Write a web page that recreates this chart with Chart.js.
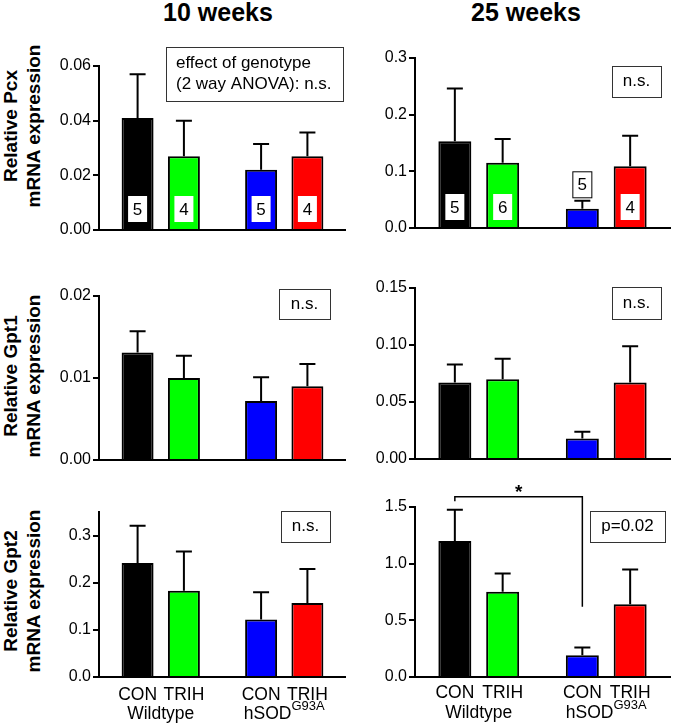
<!DOCTYPE html>
<html>
<head>
<meta charset="utf-8">
<script src="https://cdn.jsdelivr.net/npm/chart.js@4.4.0/dist/chart.umd.min.js"></script>
<style>
  body { margin: 0; background: #fff; width: 673px; height: 725px; position: relative; overflow: hidden;
         font-family: "Liberation Sans", Arial, sans-serif; }
  canvas { position: absolute; }
  .colTitle { position: absolute; top: 0; font-weight: bold; font-size: 25px; line-height: 25px;
              transform: translateX(-50%); white-space: nowrap; }
  .yTitle { position: absolute; font-weight: bold; font-size: 19px; line-height: 23px; text-align: center;
            white-space: nowrap; transform: translate(-50%, -50%) rotate(-90deg); }
</style>
</head>
<body>
<div class="colTitle" style="left:218px">10 weeks</div>
<div class="colTitle" style="left:526px">25 weeks</div>
<div class="yTitle" style="left:22px;top:126px">Relative Pcx<br>mRNA expression</div>
<div class="yTitle" style="left:22px;top:376px">Relative Gpt1<br>mRNA expression</div>
<div class="yTitle" style="left:22px;top:591px">Relative Gpt2<br>mRNA expression</div>
<script>
// groups and treatments; bar order: Wildtype CON, Wildtype TRIH, hSOD CON, hSOD TRIH
const groups = ['Wildtype', 'hSOD'];
const groupSup = ['', 'G93A'];
const treatments = ['CON', 'TRIH'];
const barColors = ['#000000', '#00ff00', '#0000ff', '#ff0000'];

// Pcx
const pcx10Mean = [0.041, 0.027, 0.022, 0.027];
const pcx10Sem = [0.016, 0.013, 0.0095, 0.0087];
const pcx10N = [5, 4, 5, 4];
const pcx25Mean = [0.153, 0.115, 0.034, 0.109];
const pcx25Sem = [0.093, 0.042, 0.014, 0.054];
const pcx25N = [5, 6, 5, 4];
// Gpt1
const gpt1w10Mean = [0.0131, 0.0100, 0.0072, 0.0090];
const gpt1w10Sem = [0.0026, 0.0027, 0.0029, 0.0027];
const gpt1w25Mean = [0.067, 0.070, 0.018, 0.067];
const gpt1w25Sem = [0.016, 0.018, 0.006, 0.032];
// Gpt2
const gpt2w10Mean = [0.242, 0.183, 0.122, 0.157];
const gpt2w10Sem = [0.079, 0.083, 0.058, 0.072];
const gpt2w25Mean = [1.20, 0.752, 0.193, 0.641];
const gpt2w25Sem = [0.275, 0.162, 0.067, 0.308];

// y ticks
const pcx10Ticks = [0, 0.02, 0.04, 0.06];
const pcx25Ticks = [0, 0.1, 0.2, 0.3];
const gpt1w10Ticks = [0, 0.01, 0.02];
const gpt1w25Ticks = [0, 0.05, 0.10, 0.15];
const gpt2w10Ticks = [0, 0.1, 0.2, 0.3];
const gpt2w25Ticks = [0, 0.5, 1.0, 1.5];

// stats text
const genotypeNote = ['effect of genotype', '(2 way ANOVA): n.s.'];
const nsNote = ['n.s.'];
const gpt2w25Note = ['p=0.02'];
const gpt2w25Bracket = { from: 0, to: 2, level: 1.59, leftEnd: 1.55, rightEnd: 0.62, label: '*' };

const FONT = '"Liberation Sans", Arial, sans-serif';
const LEFT = { x: 0, w: 346, axisW: 99, padRight: 0, catY: 695, grpY: 714 };
const RIGHT = { x: 346, w: 327, axisW: 69, padRight: 3, catY: 693, grpY: 713 };

function drawDecor(chart, p) {
  const ctx = chart.ctx;
  const y = chart.scales.y;
  const base = y.getPixelForValue(0);
  const bars = [];
  for (let g = 0; g < groups.length; g++) {
    for (let t = 0; t < treatments.length; t++) bars.push(chart.getDatasetMeta(t).data[g]);
  }
  ctx.save();
  ctx.textAlign = 'center';
  ctx.textBaseline = 'middle';
  bars.forEach((el, i) => {
    const top = y.getPixelForValue(p.mean[i] + p.sem[i]);
    ctx.strokeStyle = '#000';
    ctx.lineWidth = 2;
    ctx.beginPath();
    ctx.moveTo(el.x, el.y);
    ctx.lineTo(el.x, top);
    ctx.moveTo(el.x - 8, top);
    ctx.lineTo(el.x + 8, top);
    ctx.stroke();
    if (p.n) {
      ctx.font = '17px ' + FONT;
      // n inside the bar, or above the error bar when the bar is short
      const inside = base - el.y > 34;
      const cy = inside ? base - 21 : top - 16;
      ctx.fillStyle = '#fff';
      ctx.fillRect(el.x - 9.5, cy - 13, 19, 26);
      if (!inside) {
        ctx.lineWidth = 1;
        ctx.strokeRect(el.x - 9.5, cy - 13, 19, 26);
      }
      ctx.fillStyle = '#000';
      ctx.fillText(String(p.n[i]), el.x, cy + 1);
    }
  });

  // stat note boxes
  if (p.note) {
    const b = p.note;
    const x0 = b.x0 - p.col.x, x1 = b.x1 - p.col.x, y0 = b.y0 - p.y, y1 = b.y1 - p.y;
    ctx.fillStyle = '#fff';
    ctx.fillRect(x0, y0, x1 - x0, y1 - y0);
    ctx.strokeStyle = '#333';
    ctx.lineWidth = 1;
    ctx.strokeRect(x0 + 0.5, y0 + 0.5, x1 - x0, y1 - y0);
    ctx.fillStyle = '#000';
    ctx.font = '17px ' + FONT;
    const lh = 21.5;
    const startY = (y0 + y1) / 2 - (b.lines.length - 1) * lh / 2;
    b.lines.forEach((ln, k) => {
      if (b.lines.length > 1) {
        ctx.textAlign = 'left';
        ctx.fillText(ln, x0 + 10, startY + k * lh);
      } else {
        ctx.textAlign = 'center';
        ctx.fillText(ln, (x0 + x1) / 2, startY + k * lh);
      }
    });
  }

  // significance bracket
  if (p.bracket) {
    const br = p.bracket;
    const xa = bars[br.from].x, xb = bars[br.to].x;
    const yl = y.getPixelForValue(br.level);
    ctx.strokeStyle = '#000';
    ctx.lineWidth = 1.5;
    ctx.beginPath();
    ctx.moveTo(xa, y.getPixelForValue(br.leftEnd));
    ctx.lineTo(xa, yl);
    ctx.lineTo(xb, yl);
    ctx.lineTo(xb, y.getPixelForValue(br.rightEnd));
    ctx.stroke();
    ctx.fillStyle = '#000';
    ctx.textAlign = 'center';
    ctx.font = 'bold 19px ' + FONT;
    ctx.fillText(br.label, (xa + xb) / 2, yl - 4);
  }

  // x labels for bottom row
  if (p.xLabels) {
    ctx.fillStyle = '#000';
    ctx.textAlign = 'center';
    bars.forEach((el, i) => {
      ctx.font = '17.5px ' + FONT;
      ctx.fillText(treatments[i % 2], el.x, p.col.catY - p.y);
    });
    for (let g = 0; g < groups.length; g++) {
      const cx = (bars[2 * g].x + bars[2 * g + 1].x) / 2;
      const gy = p.col.grpY - p.y;
      ctx.font = '17.5px ' + FONT;
      const wMain = ctx.measureText(groups[g]).width;
      ctx.font = '13px ' + FONT;
      const wSup = groupSup[g] ? ctx.measureText(groupSup[g]).width : 0;
      const left = cx - (wMain + wSup) / 2;
      ctx.textAlign = 'left';
      ctx.font = '17.5px ' + FONT;
      ctx.fillText(groups[g], left, gy);
      if (wSup) {
        ctx.font = '13px ' + FONT;
        ctx.fillText(groupSup[g], left + wMain, gy - 8);
      }
      ctx.textAlign = 'center';
    }
  }
  ctx.restore();
}

function makePanel(p) {
  const canvas = document.createElement('canvas');
  canvas.width = p.col.w;
  canvas.height = p.h;
  canvas.style.left = p.col.x + 'px';
  canvas.style.top = p.y + 'px';
  document.body.appendChild(canvas);

  new Chart(canvas, {
    type: 'bar',
    data: {
      labels: groups,
      datasets: treatments.map((t, ti) => ({
        label: t,
        data: groups.map((g, gi) => p.mean[gi * 2 + ti]),
        backgroundColor: groups.map((g, gi) => barColors[gi * 2 + ti]),
        borderColor: '#000',
        borderWidth: 2,
        categoryPercentage: 0.75,
        barPercentage: 0.69
      }))
    },
    options: {
      responsive: false,
      animation: false,
      events: [],
      layout: { padding: { top: p.plotTop - p.y, right: p.col.padRight, left: 0, bottom: 0 } },
      plugins: { legend: { display: false }, tooltip: { enabled: false } },
      scales: {
        x: {
          grid: { display: false },
          border: { color: '#000', width: 2 },
          ticks: { display: false },
          afterFit: s => { s.height = p.y + p.h - p.plotBottom; }
        },
        y: {
          min: 0,
          max: p.max,
          afterFit: s => { s.width = p.col.axisW; },
          afterBuildTicks: s => { s.ticks = p.ticks.map(v => ({ value: v })); },
          ticks: {
            callback: v => v.toFixed(p.dec),
            color: '#000',
            padding: 2,
            font: { family: FONT, size: 16 }
          },
          grid: { drawOnChartArea: false, color: '#000', lineWidth: 2, tickLength: 6 },
          border: { color: '#000', width: 2 }
        }
      }
    },
    plugins: [{ id: 'decor', afterDatasetsDraw: chart => drawDecor(chart, p) }]
  });
}

makePanel({ col: LEFT, y: 40, h: 205, plotTop: 66, plotBottom: 230, max: 0.06, dec: 2,
  ticks: pcx10Ticks, mean: pcx10Mean, sem: pcx10Sem, n: pcx10N,
  note: { lines: genotypeNote, x0: 166, y0: 47, x1: 343, y1: 101 } });
makePanel({ col: RIGHT, y: 40, h: 205, plotTop: 58, plotBottom: 228, max: 0.3, dec: 1,
  ticks: pcx25Ticks, mean: pcx25Mean, sem: pcx25Sem, n: pcx25N,
  note: { lines: nsNote, x0: 612, y0: 66, x1: 661, y1: 97 } });
makePanel({ col: LEFT, y: 270, h: 205, plotTop: 296, plotBottom: 460, max: 0.02, dec: 2,
  ticks: gpt1w10Ticks, mean: gpt1w10Mean, sem: gpt1w10Sem,
  note: { lines: nsNote, x0: 279, y0: 289, x1: 330, y1: 319 } });
makePanel({ col: RIGHT, y: 270, h: 205, plotTop: 288, plotBottom: 459, max: 0.15, dec: 2,
  ticks: gpt1w25Ticks, mean: gpt1w25Mean, sem: gpt1w25Sem,
  note: { lines: nsNote, x0: 612, y0: 287, x1: 661, y1: 319 } });
makePanel({ col: LEFT, y: 480, h: 245, plotTop: 512, plotBottom: 677, max: 0.35, dec: 1,
  ticks: gpt2w10Ticks, mean: gpt2w10Mean, sem: gpt2w10Sem, xLabels: true,
  note: { lines: nsNote, x0: 281, y0: 511, x1: 330, y1: 542 } });
makePanel({ col: RIGHT, y: 480, h: 245, plotTop: 507, plotBottom: 677, max: 1.5, dec: 1,
  ticks: gpt2w25Ticks, mean: gpt2w25Mean, sem: gpt2w25Sem, xLabels: true,
  note: { lines: gpt2w25Note, x0: 590, y0: 511, x1: 665, y1: 542 },
  bracket: gpt2w25Bracket });
</script>
</body>
</html>
